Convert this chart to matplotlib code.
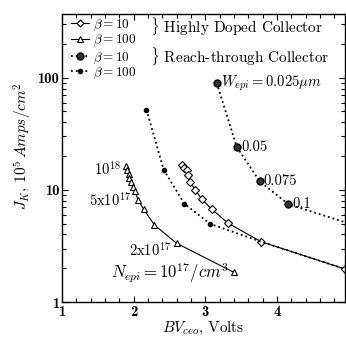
import matplotlib
matplotlib.use("Agg")
import matplotlib.pyplot as plt
from matplotlib.lines import Line2D
from matplotlib.ticker import MultipleLocator, LogLocator, NullFormatter

plt.rcParams["font.family"] = "cmr10"
plt.rcParams["mathtext.fontset"] = "cm"
plt.rcParams["axes.formatter.use_mathtext"] = True

# Highly doped collector, beta = 10 (diamonds)
hd10_bv = [2.68, 2.71, 2.74, 2.76, 2.79, 2.86, 2.95, 3.09, 3.32, 3.78, 4.95]
hd10_jk = [16.7, 15.8, 14.9, 13.6, 11.7, 10.0, 8.3, 6.73, 5.04, 3.45, 1.97]

# Highly doped collector, beta = 100 (triangles)
hd100_bv = [1.90, 1.91, 1.93, 1.94, 1.96, 1.99, 2.02, 2.06, 2.14, 2.29, 2.60, 3.40]
hd100_jk = [16.4, 15.1, 13.8, 12.7, 11.7, 10.7, 9.86, 8.14, 6.73, 4.87, 3.34, 1.84]

# Reach-through collector, beta = 10 (big dots)
rt10_bv = [3.16, 3.44, 3.76, 4.16, 5.10]
rt10_jk = [89.7, 24.1, 11.9, 7.45, 4.8]
rt10_labels = ["$W_{epi} = 0.025\\mu m$", "0.05", "0.075", "0.1"]

# Reach-through collector, beta = 100 (small dots)
rt100_bv = [2.18, 2.42, 2.71, 3.07, 3.78, 4.95]
rt100_jk = [51.8, 15.1, 7.5, 4.97, 3.45, 1.97]

fig = plt.figure(figsize=(3.46, 3.39), dpi=100)
ax = fig.add_axes([0.179, 0.109, 0.818, 0.850])

ax.plot(hd10_bv, hd10_jk, "-", color="black", lw=0.8, marker="D", ms=3.8,
        mfc="white", mec="black", mew=0.8)
ax.plot(hd100_bv, hd100_jk, "-", color="black", lw=0.8, marker="^", ms=4.5,
        mfc="white", mec="black", mew=0.8)
ax.plot(rt10_bv, rt10_jk, ":", color="black", lw=1.3, marker="o", ms=5,
        mfc="#333333", mec="black")
ax.plot(rt100_bv, rt100_jk, ":", color="black", lw=1.3)
ax.plot(rt100_bv[:4], rt100_jk[:4], "o", color="black", ms=3)

ax.set_xlim(1, 4.95)
ax.set_yscale("log")
ax.set_ylim(1, 370)
ax.set_xticks([1, 2, 3, 4])
ax.set_xticklabels(["1", "2", "3", "4"])
ax.xaxis.set_minor_locator(MultipleLocator(0.2))
ax.set_yticks([1, 10, 100])
ax.set_yticklabels(["1", "10", "100"])
ax.yaxis.set_minor_locator(LogLocator(base=10, subs=range(2, 10)))
ax.yaxis.set_minor_formatter(NullFormatter())
ax.tick_params(which="both", direction="in", top=True, right=True, width=0.8)
ax.tick_params(which="major", length=4, labelsize=10.5, pad=2)
ax.tick_params(which="minor", length=3)
for lab in ax.get_xticklabels() + ax.get_yticklabels():
    lab.set_family("cmb10")
for s in ax.spines.values():
    s.set_linewidth(1.0)

ax.set_xlabel("$BV_{ceo}$, Volts", fontsize=11, labelpad=1)
ax.set_ylabel("$J_K$, $10^5\\,Amps/cm^2$", fontsize=11)
ax.yaxis.set_label_coords(-0.10, 0.54)

# point labels
for i, txt in enumerate(rt10_labels):
    ax.annotate(txt, (rt10_bv[i], rt10_jk[i]), xytext=(3, 0),
                textcoords="offset points", ha="left", va="center", fontsize=10.5)
ax.annotate("$10^{18}$", (hd100_bv[0], hd100_jk[0]), xytext=(-4, -2),
            textcoords="offset points", ha="right", va="center", fontsize=10.5)
ax.annotate("5x10$^{17}$", (hd100_bv[7], hd100_jk[7]), xytext=(-5, 0),
            textcoords="offset points", ha="right", va="center", fontsize=10.5)
ax.annotate("2x10$^{17}$", (hd100_bv[10], hd100_jk[10]), xytext=(-4, -5),
            textcoords="offset points", ha="right", va="center", fontsize=10.5)
ax.annotate("$N_{epi} = 10^{17}/cm^3$", (hd100_bv[11], hd100_jk[11]), xytext=(-4, 0),
            textcoords="offset points", ha="right", va="center", fontsize=12)

# legend
h1 = [Line2D([], [], color="black", lw=0.8, marker="D", ms=3.5, mfc="white", mew=0.8),
      Line2D([], [], color="black", lw=0.8, marker="^", ms=4.5, mfc="white", mew=0.8)]
h2 = [Line2D([], [], color="black", lw=1.3, ls=":", marker="o", ms=5, mfc="#333333"),
      Line2D([], [], color="black", lw=1.3, ls=":", marker="o", ms=3)]
labs = ["$\\beta = 10$", "$\\beta = 100$"]
leg_kw = dict(loc="upper left", frameon=False, fontsize=9.5, handlelength=1.4,
              handletextpad=0.3, labelspacing=0.0, borderpad=0.15)
leg1 = ax.legend(h1, labs, bbox_to_anchor=(0.0, 1.017), **leg_kw)
ax.add_artist(leg1)
ax.legend(h2, labs, bbox_to_anchor=(0.0, 0.903), **leg_kw)
ax.text(0.31, 0.955, "$\\}$ Highly Doped Collector", transform=ax.transAxes,
        ha="left", va="center", fontsize=11)
ax.text(0.31, 0.85, "$\\}$ Reach-through Collector", transform=ax.transAxes,
        ha="left", va="center", fontsize=11)

fig.savefig("out.png", dpi=100)
